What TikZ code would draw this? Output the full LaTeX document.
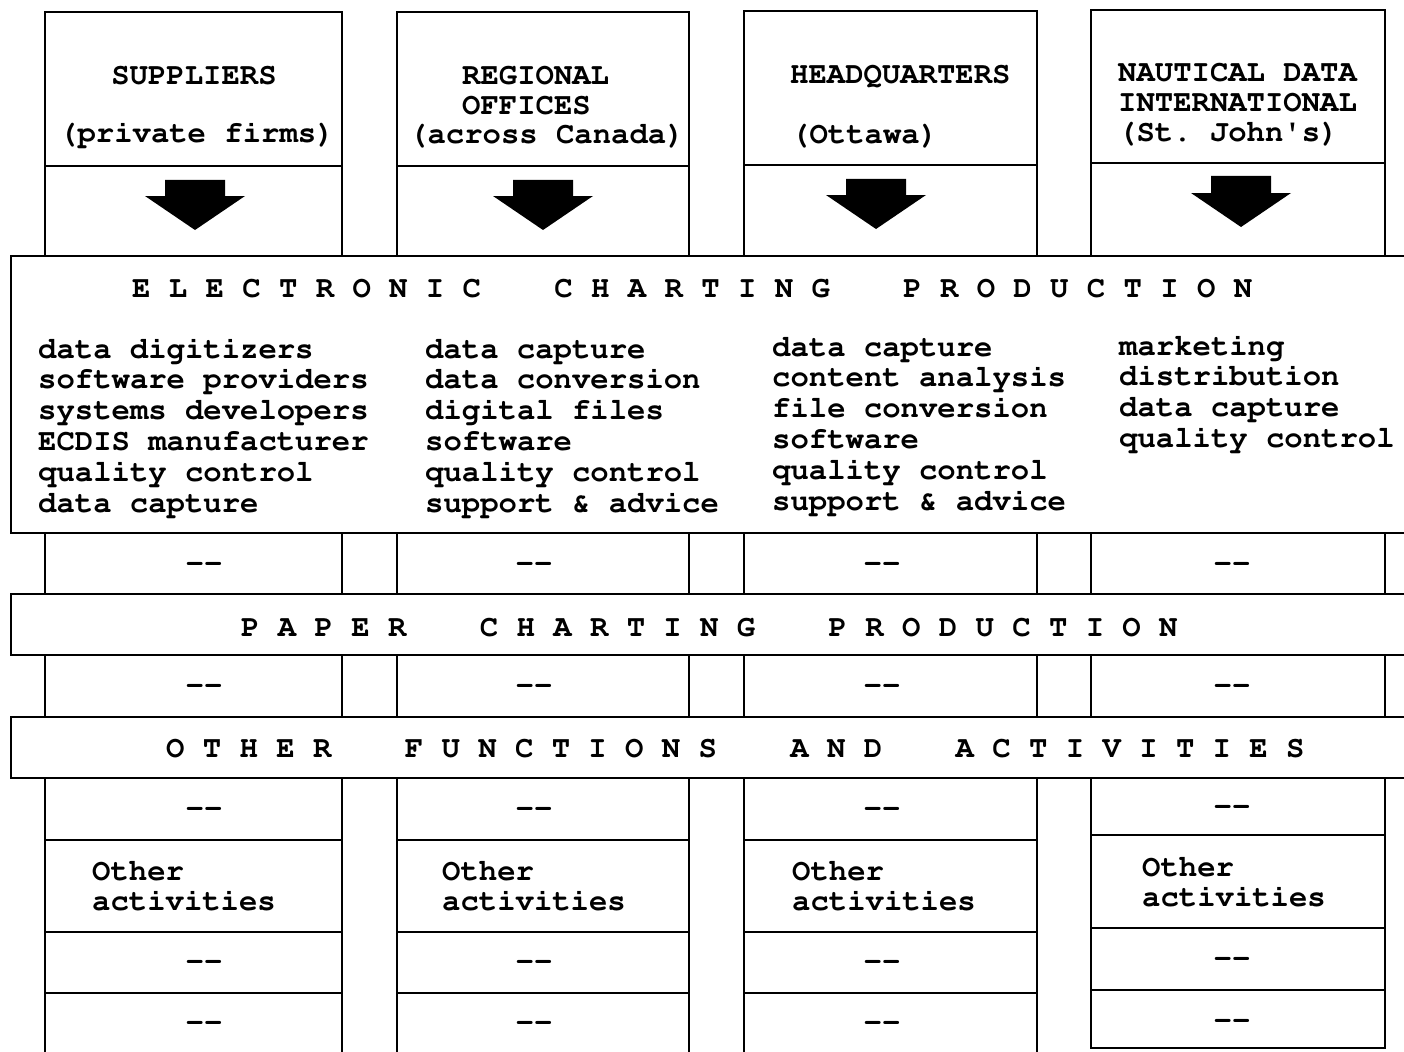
\documentclass[tikz,border=0pt]{standalone}
\usepackage[T1]{fontenc}
\begin{document}
\frenchspacing
\begin{tikzpicture}[x=1pt,y=-1pt,
  line width=2.4pt, line join=miter,
  txt/.style={inner sep=0pt, anchor=base west,
    font=\fontencoding{T1}\fontfamily{pcr}\fontseries{b}\fontsize{30.6}{30.8}\selectfont\frenchspacing},
  dashtxt/.style={txt, anchor=base},
  banner/.style={draw, fill=white},
  bigarrow/.style={fill=black, draw=none}]

% page frame
\useasboundingbox (0,0) rectangle (1404,1051);
\clip (0,0) rectangle (1404,1051);
\fill[white] (0,0) rectangle (1404,1051);

% four columns: left, right, top, header divider
\foreach \L/\R/\T/\D in {45/342/12/166, 397/689/12/166, 744/1037/11/165}{
  \draw (\L,1070) -- (\L,\T) -- (\R,\T) -- (\R,1070);
  \draw (\L,\D) -- (\R,\D);
  \draw (\L,840) -- (\R,840);
  \draw (\L,932) -- (\R,932);
  \draw (\L,993) -- (\R,993);
}
\draw (1091,10) rectangle (1385,1048);
\draw (1091,163) -- (1385,163);
\draw (1091,835) -- (1385,835);
\draw (1091,928) -- (1385,928);
\draw (1091,990) -- (1385,990);

% block arrows under the headers
\foreach \cx/\st/\hb/\tp in {195/180/196/230, 543/180/196/230, 876/179/195/229, 1241/176/193/227}{
  \fill[bigarrow] (\cx-30,\st) -- (\cx+30,\st) -- (\cx+30,\hb) -- (\cx+50,\hb)
    -- (\cx,\tp) -- (\cx-50,\hb) -- (\cx-30,\hb) -- cycle;
}

% the three production bands
\draw[banner] (11,256) rectangle (1430,533);
\draw[banner] (11,594) rectangle (1430,655);
\draw[banner] (11,717) rectangle (1430,778);

% column headers
\node[txt, anchor=base] (sup1) at (194,85) {SUPPLIERS};
\node[txt] (sup2) at (58,143) {(private firms)};
\node[txt] (reg1) at (461,85) {REGIONAL};
\node[txt] (reg2) at (461,115) {OFFICES};
\node[txt] (reg3) at (408,144) {(across Canada)};
\node[txt] (hq1) at (789,84) {HEADQUARTERS};
\node[txt] (hq2) at (790,144) {(Ottawa)};
\node[txt] (ndi1) at (1117,82) {NAUTICAL DATA};
\node[txt] (ndi2) at (1117,112) {INTERNATIONAL};
\node[txt] (ndi3) at (1117,142) {(St.\ John\textquotesingle s)};

% band titles
\node[txt] (ecp) at (131,297) {E~L~E~C~T~R~O~N~I~C~~~~C~H~A~R~T~I~N~G~~~~P~R~O~D~U~C~T~I~O~N};
\node[txt] (pcp) at (240,636) {P~A~P~E~R~~~~C~H~A~R~T~I~N~G~~~~P~R~O~D~U~C~T~I~O~N};
\node[txt] (ofa) at (165,757) {O~T~H~E~R~~~~F~U~N~C~T~I~O~N~S~~~~A~N~D~~~~A~C~T~I~V~I~T~I~E~S};

% electronic charting tasks
\foreach \t [count=\i] in {data digitizers, software providers, systems developers,
    ECDIS manufacturer, quality control, data capture}
  \node[txt] (ea\i) at (37,{358+30.8*(\i-1)}) {\t};
\foreach \t [count=\i] in {data capture, data conversion, digital files,
    software, quality control, support \& advice}
  \node[txt] (eb\i) at (424,{358+30.8*(\i-1)}) {\t};
\foreach \t [count=\i] in {data capture, content analysis, file conversion,
    software, quality control, support \& advice}
  \node[txt] (ec\i) at (771,{356+30.8*(\i-1)}) {\t};
\foreach \t [count=\i] in {marketing, distribution, data capture, quality control}
  \node[txt] (ed\i) at (1118,{355+30.8*(\i-1)}) {\t};

% placeholder entries
\foreach \cx [count=\c] in {204,534,882,1232}{
  \node[dashtxt] (da\c) at (\cx,572) {-\kern0pt-};
  \node[dashtxt] (db\c) at (\cx,694) {-\kern0pt-};
}
\foreach \cx/\a/\b/\d [count=\c] in {204/817/970/1031, 534/817/970/1031, 882/817/970/1031, 1232/815/967/1029}{
  \node[dashtxt] (dc\c) at (\cx,\a) {-\kern0pt-};
  \node[dashtxt] (dd\c) at (\cx,\b) {-\kern0pt-};
  \node[dashtxt] (de\c) at (\cx,\d) {-\kern0pt-};
}

% other activities
\foreach \lx/\by [count=\c] in {91/880, 441/880, 791/880, 1141/876}{
  \node[txt] (oa\c) at (\lx,\by) {Other};
  \node[txt] (ob\c) at (\lx,\by+30) {activities};
}
\end{tikzpicture}
\end{document}
